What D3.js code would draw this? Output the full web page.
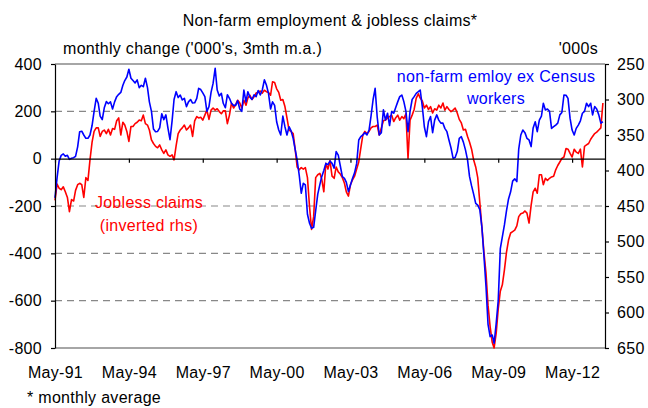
<!DOCTYPE html>
<html>
<head>
<meta charset="utf-8">
<script src="https://cdn.jsdelivr.net/npm/d3@7"></script>
<style>
  body { margin: 0; background: #fff; }
  text { font-family: "Liberation Sans", Arial, sans-serif; letter-spacing: 0.3px; }
</style>
</head>
<body>
<div id="viz"></div>
<script>
const width = 648,
    height = 408,
    margin = { top: 64, right: 42, bottom: 60, left: 55 },
    fontSize = 16;

// monthly series, first month May-91
const startMonth = "1991-05";

// non-farm payrolls ex Census, monthly change ('000s, 3mth m.a.)
const payrolls = [
    -166, -80, -10, 14, 20, 10, 14, -3, 2, 4,
    10, 50, 114, 116, 100, 86, 86, 100, 140, 200,
    255, 234, 180, 165, 215, 241, 232, 240, 210, 240,
    262, 272, 280, 310, 330, 345, 378, 340, 330, 320,
    333, 300, 310, 304, 340, 300, 240, 200, 125, 114,
    115, 130, 190, 165, 185, 130, 80, 160, 250, 283,
    258, 269, 248, 255, 220, 240, 250, 235, 236, 255,
    297, 292, 278, 262, 200, 220, 280, 318, 382, 290,
    265, 276, 234, 215, 270, 255, 234, 225, 225, 245,
    210, 200, 290, 240, 283, 260, 250, 270, 262, 288,
    269, 290, 333, 311, 276, 210, 240, 225, 156, 121,
    100, 180, 135, 100, 135, 118, 86, 37, -5, -70,
    -146, -104, -111, -235, -273, -294, -290, -220, -150, -110,
    -76, -50, -20, -25, -10, -20, -40, 30, 15, -30,
    -76, -83, -100, -139, -111, -83, -60, -20, 79, 93,
    100, 110, 100, 121, 180, 250, 297, 175, 100, 110,
    206, 163, 192, 140, 199, 192, 215, 240, 262, 269,
    241, 200, 114, 200, 250, 262, 276, 283, 290, 220,
    135, 93, 156, 178, 110, 163, 185, 163, 150, 150,
    128, 114, 79, 45, 2, 5, 30, 86, 93, 70,
    37, -5, -75, -115, -150, -189, -196, -215, -290, -410,
    -541, -700, -752, -745, -780, -696, -600, -380, -330, -280,
    -220, -170, -140, -95, -85, -97, 40, 100, 121, 110,
    86, 79, 51, 130, 156, 114, 163, 180, 234, 206,
    210, 200, 128, 135, 142, 150, 185, 195, 269, 268,
    255, 170, 121, 100, 128, 142, 160, 192, 200, 234,
    220, 234, 185, 220, 210, 185, 150, 156
];

// initial jobless claims, monthly average ('000s), plotted on inverted rhs
const claims = [
    442, 419, 425, 427, 423, 430, 438, 458, 441, 443,
    428, 420, 418, 420, 438, 410, 414, 385, 360, 345,
    340, 340, 352, 345, 343, 348, 342, 350, 341, 342,
    330, 326, 350, 332, 336, 345, 359, 338, 338, 334,
    332, 329, 330, 322, 334, 336, 343, 357, 362, 366,
    368, 364, 371, 376, 371, 378, 380, 378, 385, 365,
    348, 343, 340, 336, 343, 340, 336, 352, 330, 324,
    326, 325, 329, 322, 315, 328, 315, 312, 315, 313,
    317, 320, 316, 316, 334, 322, 305, 312, 307, 301,
    305, 312, 301, 308, 298, 294, 300, 296, 291, 290,
    288, 291, 287, 289, 290, 294, 275, 276, 285, 290,
    301, 300, 310, 326, 343, 345, 348, 371, 395, 399,
    396, 398, 396, 410, 451, 483, 465, 410, 406, 404,
    412, 430, 390, 398, 386, 408, 411, 395, 402, 405,
    410, 418, 430, 436, 420, 413, 408, 398, 388, 369,
    350, 345, 348, 345, 340, 338, 338, 336, 350, 340,
    330, 329, 326, 324, 322, 331, 326, 322, 329, 324,
    327, 320, 383, 329, 322, 314, 298, 292, 298, 302,
    312, 308, 314, 310, 319, 313, 315, 308, 312, 305,
    315, 310, 314, 317, 315, 312, 319, 328, 333, 343,
    342, 352, 360, 370, 385, 395, 410, 445, 480, 515,
    545, 590, 620, 642, 650, 629, 595, 570, 561, 540,
    515, 498, 488, 486, 484, 478, 465, 461, 460, 457,
    460, 474, 449, 430, 425, 432, 406, 406, 420, 411,
    414, 411, 409, 408, 399, 393, 388, 383, 381, 369,
    370, 376, 381, 370, 374, 376, 370, 395, 366, 364,
    362, 356, 352, 348, 346, 343, 340, 305
];

const xTickLabels = ["May-91", "May-94", "May-97", "May-00", "May-03", "May-06", "May-09", "May-12"];
const leftTicks = [400, 200, 0, -200, -400, -600, -800];
const rightTicks = [250, 300, 350, 400, 450, 500, 550, 600, 650];

const parseMonth = d3.timeParse("%Y-%m"),
    parseLabel = d3.timeParse("%b-%y"),
    fmtLabel = d3.timeFormat("%b-%y");

const start = parseMonth(startMonth);
const months = payrolls.map((d, i) => d3.timeMonth.offset(start, i));
const tickDates = xTickLabels.map(parseLabel);

const x = d3.scaleTime()
    .domain([start, d3.timeMonth.offset(start, payrolls.length)])
    .range([margin.left, width - margin.right - 1]);

const yL = d3.scaleLinear()
    .domain([-800, 400])
    .range([height - margin.bottom, margin.top]);

const yR = d3.scaleLinear()
    .domain([650, 250])
    .range([height - margin.bottom, margin.top]);

const svg = d3.select("#viz").append("svg")
    .attr("width", width)
    .attr("height", height);

const x0 = x.range()[0], x1 = x.range()[1];

// gridlines
svg.append("g")
    .selectAll("line")
    .data(leftTicks)
    .enter().append("line")
    .attr("x1", x0)
    .attr("x2", x1)
    .attr("y1", d => yL(d))
    .attr("y2", d => yL(d))
    .attr("stroke", d => d == 0 ? "none" : "#888")
    .attr("stroke-width", d => (d == 400 || d == -800) ? 1.5 : 1.2)
    .attr("stroke-dasharray", d => (d == 400 || d == -800) ? null : "7,5");

// lines
const linePay = d3.line()
    .x((d, i) => x(months[i]))
    .y(d => yL(d));

const lineClaims = d3.line()
    .x((d, i) => x(months[i]))
    .y(d => yR(d));

svg.append("path")
    .datum(claims)
    .attr("fill", "none")
    .attr("stroke", "#ff0000")
    .attr("stroke-width", 1.6)
    .attr("stroke-linejoin", "round")
    .attr("d", lineClaims);

svg.append("path")
    .datum(payrolls)
    .attr("fill", "none")
    .attr("stroke", "#0000ff")
    .attr("stroke-width", 1.6)
    .attr("stroke-linejoin", "round")
    .attr("d", linePay);

const styleText = g => g.selectAll("text")
    .attr("font-size", fontSize)
    .attr("font-family", null)
    .attr("fill", "#000");

// zero line with ticks
svg.append("g")
    .attr("transform", "translate(0," + yL(0) + ")")
    .call(d3.axisBottom(x).tickValues(tickDates).tickSize(4).tickFormat("").tickSizeOuter(0))
    .call(g => g.selectAll("line, path").attr("stroke", "#000").attr("stroke-width", 1.2));

// x labels along bottom
svg.append("g")
    .attr("transform", "translate(0," + (height - margin.bottom) + ")")
    .call(d3.axisBottom(x).tickValues(tickDates).tickSize(0).tickPadding(19).tickFormat(fmtLabel))
    .call(g => g.select(".domain").remove())
    .call(styleText);

svg.append("g")
    .attr("transform", "translate(" + x0 + ",0)")
    .call(d3.axisLeft(yL).tickValues(leftTicks).tickSize(4).tickPadding(9).tickSizeOuter(0)
        .tickFormat(d => String(d)))
    .call(g => g.selectAll("line, path").attr("stroke", "#000").attr("stroke-width", 1.2))
    .call(styleText);

svg.append("g")
    .attr("transform", "translate(" + x1 + ",0)")
    .call(d3.axisRight(yR).tickValues(rightTicks).tickSize(4).tickPadding(8).tickSizeOuter(0))
    .call(g => g.selectAll("line, path").attr("stroke", "#000").attr("stroke-width", 1.2))
    .call(styleText);

// texts
svg.append("text")
    .attr("x", 330).attr("y", 26)
    .attr("text-anchor", "middle")
    .attr("font-size", fontSize)
    .text("Non-farm employment & jobless claims*");

svg.append("text")
    .attr("x", 63).attr("y", 54)
    .attr("font-size", fontSize)
    .text("monthly change ('000's, 3mth m.a.)");

svg.append("text")
    .attr("x", 598).attr("y", 54)
    .attr("text-anchor", "end")
    .attr("font-size", fontSize)
    .text("'000s");

svg.append("text")
    .attr("x", 27).attr("y", 403)
    .attr("font-size", fontSize)
    .text("* monthly average");

const blueLabel = svg.append("text")
    .attr("text-anchor", "middle")
    .attr("font-size", fontSize)
    .attr("fill", "#0000ff");
blueLabel.append("tspan").attr("x", 496).attr("y", 82).text("non-farm emloy ex Census");
blueLabel.append("tspan").attr("x", 496).attr("y", 104).text("workers");

const redLabel = svg.append("text")
    .attr("text-anchor", "middle")
    .attr("font-size", fontSize)
    .attr("fill", "#ff0000");
redLabel.append("tspan").attr("x", 149).attr("y", 208).text("Jobless claims");
redLabel.append("tspan").attr("x", 149).attr("y", 231).text("(inverted rhs)");
</script>
</body>
</html>
